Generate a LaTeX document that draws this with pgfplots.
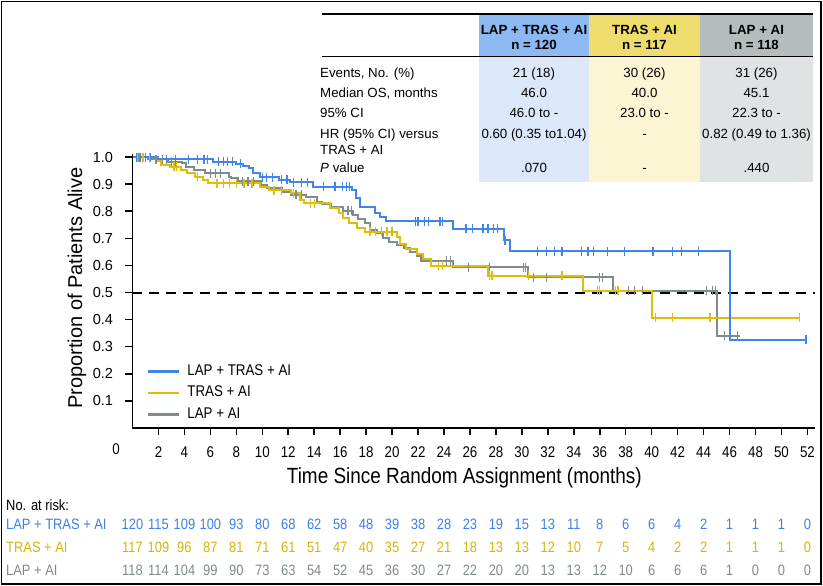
\documentclass[border=0pt]{standalone}
\usepackage{pgfplots}
\pgfplotsset{compat=1.18}
\usepackage{fontspec}
\setmainfont{Liberation Sans}
\newfontfamily\cond[FakeStretch=0.86]{Liberation Sans}
\definecolor{cblue}{RGB}{64,132,236}
\definecolor{cyel}{RGB}{222,190,10}
\definecolor{cgray}{RGB}{128,140,140}
\definecolor{hblue}{RGB}{141,185,242}
\definecolor{lblue}{RGB}{220,232,250}
\definecolor{hyel}{RGB}{238,221,108}
\definecolor{lyel}{RGB}{251,245,211}
\definecolor{hgray}{RGB}{180,189,187}
\definecolor{lgray}{RGB}{224,227,227}
\definecolor{tblue}{RGB}{60,128,232}
\definecolor{tyel}{RGB}{214,180,10}
\definecolor{tgray}{RGB}{128,138,138}
\begin{document}
\begin{tikzpicture}
\path[use as bounding box] (0pt,0pt) rectangle (823pt,-586pt);
\begin{axis}[
  at={(132.5pt,-428pt)}, anchor=south west,
  scale only axis, width=682.7pt, height=273.7pt,
  xmin=0, xmax=52.6, ymin=0, ymax=1.01,
  axis x line*=bottom, axis y line*=left,
  axis line style={black, line width=1.5pt, -},
  tick align=outside,
  major tick length=7pt,
  tick style={black, line width=1.5pt},
  xtick={2,4,...,52},
  ytick={0.1,0.2,0.3,0.4,0.5,0.6,0.7,0.8,0.9,1.0},
  /pgf/number format/assume math mode=true,
  yticklabel style={font=\fontsize{14.5}{16}\selectfont, xshift=-9pt, /pgf/number format/fixed, /pgf/number format/fixed zerofill, /pgf/number format/precision=1},
  xticklabel style={font=\cond\fontsize{15.5}{16}\selectfont, yshift=-8pt},
  xlabel={Time Since Random Assignment (months)},
  xlabel style={font=\cond\fontsize{22}{24}\selectfont, at={(axis description cs:0.486,0)}, anchor=center, yshift=-50pt},
  ylabel={Proportion of Patients Alive},
  ylabel style={font=\fontsize{20}{24}\selectfont, at={(axis description cs:-0.0813,0.511)}, anchor=center},
  clip=false,
  legend style={draw=none, fill=none, at={(axis cs:1.12,0.1295)}, anchor=west, inner sep=0pt, column sep=7pt, row sep=7.5pt, font=\cond\fontsize{15.5}{18}\selectfont, nodes={inner sep=0pt, text height=11pt, text depth=3pt}},
  legend cell align=left,
  legend image code/.code={\draw[#1, line width=2.2pt] (0pt,0pt) -- (31pt,0pt);},
]
\addplot[black, line width=2pt, dash pattern=on 10pt off 7pt, forget plot] coordinates {(0,0.5) (52.6,0.5)};
% LAP + AI (gray)
\addplot[const plot, cgray, line width=2pt, forget plot] coordinates {
(0,1.0) (1.2,0.991) (2.7,0.983) (3.8,0.977) (4.1,0.964) (4.7,0.952) (5.6,0.940) (7.4,0.928) (7.6,0.921) (8.1,0.911) (9.9,0.897) (10.4,0.884) (11.5,0.872) (12.2,0.860) (13.4,0.851) (14.2,0.835) (14.6,0.826) (15.3,0.817) (16.2,0.802) (17.0,0.786) (17.4,0.770) (17.9,0.755) (18.3,0.731) (18.8,0.718) (19.3,0.700) (19.8,0.687) (20.4,0.675) (20.9,0.663) (21.4,0.651) (21.9,0.635) (22.2,0.617) (24.7,0.594) (30.5,0.557) (37.0,0.507) (45.0,0.340) (46.8,0.340)};
\addplot[only marks, mark=|, mark size=4.5pt, cgray, mark options={line width=1.3pt}, forget plot] coordinates {
(0.5,1) (1.0,1) (1.8,0.991) (2.3,0.991) (3.0,0.983) (3.3,0.983) (6.0,0.940) (6.4,0.940) (6.8,0.940) (8.5,0.911) (8.9,0.911) (9.3,0.911) (12.6,0.860) (13.0,0.860) (16.6,0.802) (16.9,0.802) (24.2,0.617) (24.5,0.617) (25.9,0.594) (27.5,0.594) (30.1,0.594) (30.3,0.594) (30.9,0.557) (31.9,0.557) (36.0,0.557) (36.2,0.557) (38.2,0.507) (38.7,0.507) (39.3,0.507) (44.2,0.507) (44.7,0.507) (44.9,0.507) (45.6,0.340) (46.6,0.340)};
% TRAS + AI (yellow)
\addplot[const plot, cyel, line width=2pt, forget plot] coordinates {
(0,1.0) (1.8,0.985) (2.2,0.970) (2.9,0.964) (3.7,0.952) (4.2,0.940) (4.8,0.927) (5.4,0.915) (5.8,0.903) (9.8,0.890) (10.5,0.878) (12.2,0.866) (12.9,0.841) (13.2,0.829) (15.2,0.810) (15.9,0.792) (16.2,0.774) (16.7,0.755) (17.3,0.737) (17.9,0.725) (20.4,0.706) (20.6,0.678) (21.1,0.660) (21.9,0.642) (22.4,0.622) (23.0,0.598) (27.4,0.561) (34.7,0.507) (40.0,0.407) (51.4,0.407)};
\addplot[only marks, mark=|, mark size=4.5pt, cyel, mark options={line width=1.3pt}, forget plot] coordinates {
(0.4,1) (0.8,1) (1.3,1) (3.2,0.964) (3.4,0.964) (5.0,0.927) (6.5,0.903) (7.0,0.903) (7.5,0.903) (8.0,0.903) (8.6,0.903) (9.2,0.903) (10.9,0.878) (11.5,0.878) (12.4,0.866) (13.7,0.829) (14.0,0.829) (18.3,0.725) (18.7,0.725) (19.2,0.725) (19.6,0.725) (20.0,0.725) (23.6,0.598) (23.9,0.598) (27.5,0.561) (27.7,0.561) (30.5,0.561) (33.1,0.561) (35.8,0.507) (36.0,0.507) (37.2,0.507) (37.4,0.507) (40.3,0.407) (41.6,0.407) (44.5,0.407) (51.4,0.407)};
% LAP + TRAS + AI (blue)
\addplot[const plot, cblue, line width=2pt, forget plot] coordinates {
(0,1.0) (2.0,0.992) (6.2,0.983) (8.0,0.975) (8.5,0.967) (9.0,0.958) (9.3,0.942) (9.8,0.925) (11.3,0.916) (12.1,0.907) (13.9,0.890) (16.9,0.878) (17.2,0.849) (17.5,0.817) (18.7,0.795) (19.1,0.777) (19.5,0.763) (24.7,0.735) (28.6,0.692) (29.1,0.652) (46.0,0.325) (51.9,0.325)};
\addplot[only marks, mark=|, mark size=4.5pt, cblue, mark options={line width=1.3pt}, forget plot] coordinates {
(0.3,1) (0.6,1) (1.0,1) (1.4,1) (2.6,0.992) (3.3,0.992) (4.3,0.992) (5.0,0.992) (5.5,0.992) (5.8,0.992) (6.6,0.983) (7.0,0.983) (7.3,0.983) (7.7,0.983) (8.3,0.975) (10.0,0.925) (10.3,0.925) (10.8,0.925) (11.5,0.916) (11.9,0.916) (12.4,0.907) (13.0,0.907) (13.5,0.907) (14.7,0.890) (15.6,0.890) (16.2,0.890) (16.5,0.890) (16.7,0.890) (21.8,0.763) (22.0,0.763) (22.5,0.763) (22.8,0.763) (23.7,0.763) (23.9,0.763) (25.7,0.735) (26.2,0.735) (27.0,0.735) (27.4,0.735) (27.8,0.735) (28.1,0.735) (28.7,0.692) (31.2,0.652) (31.9,0.652) (32.5,0.652) (33.1,0.652) (34.6,0.652) (35.1,0.652) (35.5,0.652) (36.6,0.652) (37.9,0.652) (40.1,0.652) (41.6,0.652) (42.3,0.652) (43.6,0.652) (51.9,0.325)};
\addlegendimage{cblue}
\addlegendentry{LAP + TRAS + AI}
\addlegendimage{cyel}
\addlegendentry{TRAS + AI}
\addlegendimage{cgray}
\addlegendentry{LAP + AI}
\end{axis}
\begin{scope}[x=1pt,y=1pt]
% tick marks
\foreach \k in {2,4,...,52} \draw[line width=1.5pt] ({132.5+12.979*\k},-428) -- ++(0,-7);
\foreach \v in {1,...,10} \draw[line width=1.5pt] (132.5,{-428+27.1*\v}) -- ++(-7,0);
% tick label at the origin
\node[font=\cond\fontsize{15.5}{16}\selectfont, anchor=center] at (116,-449) {0};
% frame
\draw[line width=1.2pt] (1.5,-1.5) rectangle (821,-584);
% summary table
\fill[hblue] (479,-15) rectangle (589,-57);
\fill[hyel] (589,-15) rectangle (700,-57);
\fill[hgray] (700,-15) rectangle (813,-57);
\fill[lblue] (479,-57) rectangle (589,-182);
\fill[lyel] (589,-57) rectangle (700,-182);
\fill[lgray] (700,-57) rectangle (813,-182);
\draw[line width=1.8pt] (322,-14) -- (813,-14);
\draw[line width=1pt] (322,-57) -- (813,-57);
\begin{scope}[every node/.style={font=\fontsize{13.3}{15}\selectfont, inner sep=0pt}]
\node[anchor=base, font=\bfseries\fontsize{13.3}{15}\selectfont] at (534,-34.1) {LAP + TRAS + AI};
\node[anchor=base, font=\bfseries\fontsize{13.3}{15}\selectfont] at (534,-49.1) {n = 120};
\node[anchor=base, font=\bfseries\fontsize{13.3}{15}\selectfont] at (644.5,-34.1) {TRAS + AI};
\node[anchor=base, font=\bfseries\fontsize{13.3}{15}\selectfont] at (644.5,-49.1) {n = 117};
\node[anchor=base, font=\bfseries\fontsize{13.3}{15}\selectfont] at (756.5,-34.1) {LAP + AI};
\node[anchor=base, font=\bfseries\fontsize{13.3}{15}\selectfont] at (756.5,-49.1) {n = 118};
\node[anchor=base west] at (320,-77.5) {Events, No. (\%)};
\node[anchor=base west] at (320,-97.5) {Median OS, months};
\node[anchor=base west] at (320,-117.5) {95\% CI};
\node[anchor=base west] at (320,-138.1) {HR (95\% CI) versus};
\node[anchor=base west] at (320,-154.8) {TRAS + AI};
\node[anchor=base west] at (320,-172.5) {\textit{P} value};
\node[anchor=base] at (534,-77.5) {21 (18)};
\node[anchor=base] at (534,-97.5) {46.0};
\node[anchor=base] at (534,-117.5) {46.0 to -};
\node[anchor=base] at (534,-138.1) {0.60 (0.35 to1.04)};
\node[anchor=base] at (534,-172.5) {.070};
\node[anchor=base] at (644.5,-77.5) {30 (26)};
\node[anchor=base] at (644.5,-97.5) {40.0};
\node[anchor=base] at (644.5,-117.5) {23.0 to -};
\node[anchor=base] at (644.5,-138.1) {-};
\node[anchor=base] at (644.5,-172.5) {-};
\node[anchor=base] at (756.5,-77.5) {31 (26)};
\node[anchor=base] at (756.5,-97.5) {45.1};
\node[anchor=base] at (756.5,-117.5) {22.3 to -};
\node[anchor=base] at (756.5,-138.1) {0.82 (0.49 to 1.36)};
\node[anchor=base] at (756.5,-172.5) {.440};
\end{scope}
% number at risk
\begin{scope}[every node/.style={font=\cond\fontsize{15}{17}\selectfont, inner sep=0pt}]
\node[anchor=base west] at (6,-510.4) {No. at risk:};
\node[anchor=base west, text=tblue] at (6,-529.4) {LAP + TRAS + AI};
\node[anchor=base west, text=tyel] at (6,-552.4) {TRAS + AI};
\node[anchor=base west, text=tgray] at (6,-575.4) {LAP + AI};
\foreach \v [count=\i from 0] in {120,115,109,100,93,80,68,62,58,48,39,38,28,23,19,15,13,11,8,6,6,4,2,1,1,1,0}
  \node[anchor=base, text=tblue] at ({132.5+25.96*\i},-529.4) {\v};
\foreach \v [count=\i from 0] in {117,109,96,87,81,71,61,51,47,40,35,27,21,18,13,13,12,10,7,5,4,2,2,1,1,1,0}
  \node[anchor=base, text=tyel] at ({132.5+25.96*\i},-552.4) {\v};
\foreach \v [count=\i from 0] in {118,114,104,99,90,73,63,54,52,45,36,30,27,22,20,20,13,13,12,10,6,6,6,1,0,0,0}
  \node[anchor=base, text=tgray] at ({132.5+25.96*\i},-575.4) {\v};
\end{scope}
\end{scope}
\end{tikzpicture}
\end{document}
